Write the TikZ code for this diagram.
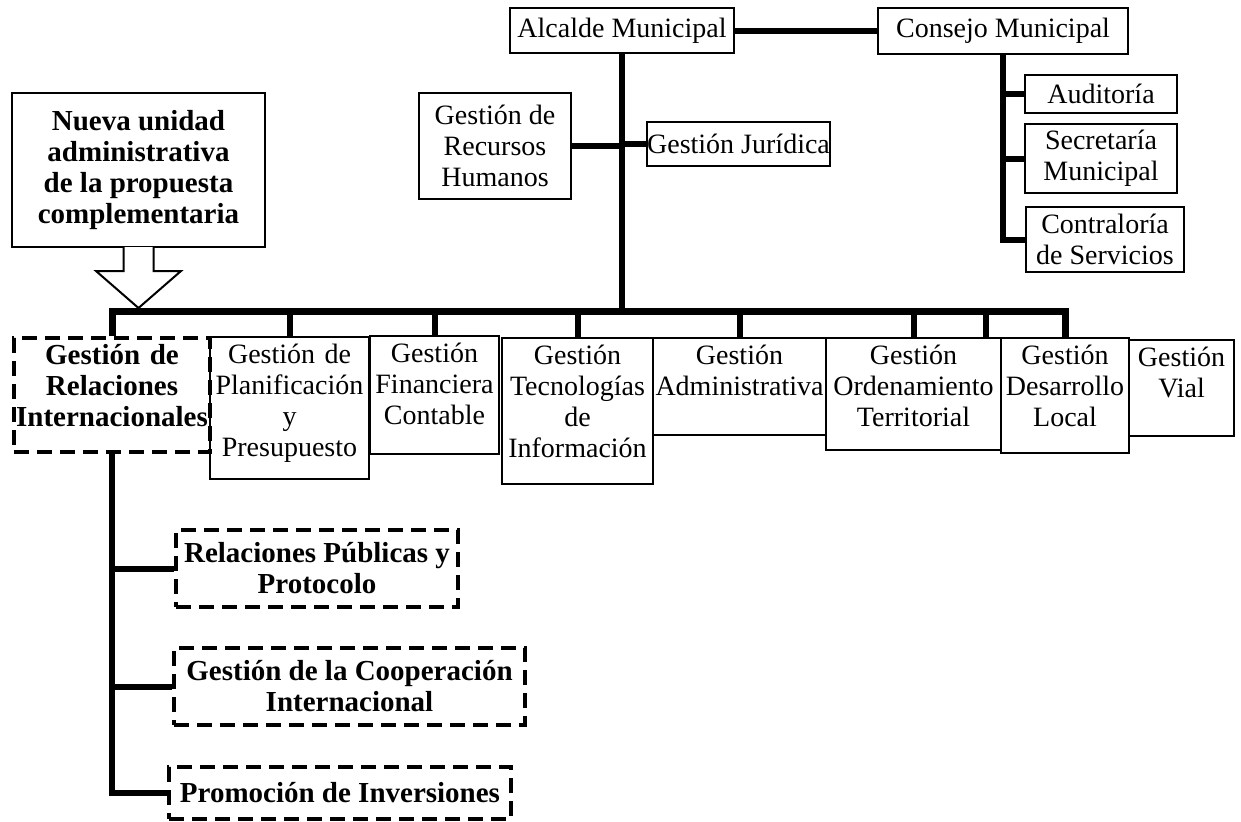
\documentclass[tikz,border=0pt]{standalone}
\usepackage{fontspec}
\setmainfont{Liberation Serif}

\tikzset{
  unit/.style={draw, line width=1pt, inner sep=0pt, align=center,
    font=\fontsize{14}{15.5}\selectfont},
  newunit/.style={unit, line width=2pt, dash pattern=on 7.5pt off 4pt,
    font=\fontsize{14.5}{15.5}\selectfont\bfseries},
  rowunit/.style 2 args={unit, anchor=north west, text width=#1,
    text height=13pt, text depth=#2},
  link/.style={line width=3pt},
}

\begin{document}
\begin{tikzpicture}[x=0.5pt, y=-0.5pt]
  \useasboundingbox (0,0) rectangle (1241,821);

  % top of the chart
  \node[unit, minimum width=112pt, minimum height=22.5pt] (alc) at (622,30.5) {Alcalde Municipal};
  \node[unit, minimum width=125pt, minimum height=23pt] (con) at (1003,31) {Consejo Municipal};
  \node[unit, minimum width=76pt, minimum height=53pt] (rec) at (495,146) {Gestión de\\Recursos\\Humanos};
  \node[unit, minimum width=91.5pt, minimum height=22pt] (jur) at (738.5,144) {Gestión Jurídica};
  \node[unit, minimum width=76pt, minimum height=19pt] (aud) at (1101,94) {Auditoría};
  \node[unit, minimum width=76pt, minimum height=34.5pt] (sec) at (1101,158.5) {Secretaría\\Municipal};
  \node[unit, minimum width=79pt, minimum height=32.5pt] (cont) at (1105,239.5) {Contraloría\\de Servicios};

  \coordinate (bus) at (622,311);

  % row of management units
  \node[newunit, anchor=north west, text width=98pt, text height=13pt, text depth=44pt]
    (rel) at (12,336) {Gestión de\\Relaciones\\Internacionales};
  \foreach \name/\x/\y/\w/\d/\txt in {
      plan/209/336/79.5pt/58pt/{Gestión de\\Planificación\\y\\Presupuesto},
      fin/369/335/64.5pt/46pt/{Gestión\\Financiera\\Contable},
      tec/501/337/75.5pt/60pt/{Gestión\\Tecnologías\\de\\Información},
      adm/652/337/86.5pt/35.5pt/{Gestión\\Administrativa},
      ord/825/337/87.5pt/43pt/{Gestión\\Ordenamiento\\Territorial},
      des/1000/337/64pt/44.5pt/{Gestión\\Desarrollo\\Local},
      vial/1128/339/52.5pt/35pt/{Gestión\\Vial}
    }{
      \node[rowunit={\w}{\d}] (\name) at (\x,\y) {\txt};
    }

  % proposed unit and its arrow
  \node[newunit, solid, line width=1pt, minimum width=126.5pt, minimum height=77pt]
    (nueva) at (138.5,170) {Nueva unidad\\administrativa\\de la propuesta\\complementaria};
  \draw[line width=1pt, fill=white] ([xshift=-7.5pt, yshift=0.5pt]nueva.south)
    -- ++(0pt,-12pt) -- ++(-13.75pt,0pt) -- ++(21.25pt,-18.5pt)
    -- ++(21.25pt,18.5pt) -- ++(-13.75pt,0pt) -- ++(0pt,12pt);

  % sub units
  \node[newunit, minimum width=141pt, minimum height=38.5pt] (pub) at (317,568.5) {Relaciones Públicas y\\Protocolo};
  \node[newunit, minimum width=175.5pt, minimum height=38.5pt] (coop) at (349.5,686.5) {Gestión de la Cooperación\\Internacional};
  \node[newunit, minimum width=171pt, minimum height=26pt] (prom) at (340,793) {Promoción de Inversiones};

  % connectors
  \draw[link] (alc.east) -- (alc.east -| con.west);
  \draw[link] (alc.south) -- (alc.south |- bus);
  \draw[link] (rec.east) -- (rec.east -| alc.south);
  \draw[link] (jur.west -| alc.south) -- (jur.west);
  \draw[link] (con.south) |- (cont.west);
  \draw[link] (aud.west -| con.south) -- (aud.west);
  \draw[link] (sec.west -| con.south) -- (sec.west);
  \draw[link, line width=3.5pt] (rel.north) -- (rel.north |- bus) -- (des.north |- bus) -- (des.north);
  \foreach \n in {plan, fin, tec, adm, ord}
    \draw[link] (\n.north |- bus) -- (\n.north);
  \draw[link] ([xshift=-8pt]ord.north east |- bus) -- ([xshift=-8pt]ord.north east);
  \draw[link] (rel.south) |- (prom.west);
  \draw[link] (pub.west -| rel.south) -- (pub.west);
  \draw[link] (coop.west -| rel.south) -- (coop.west);
\end{tikzpicture}
\end{document}
